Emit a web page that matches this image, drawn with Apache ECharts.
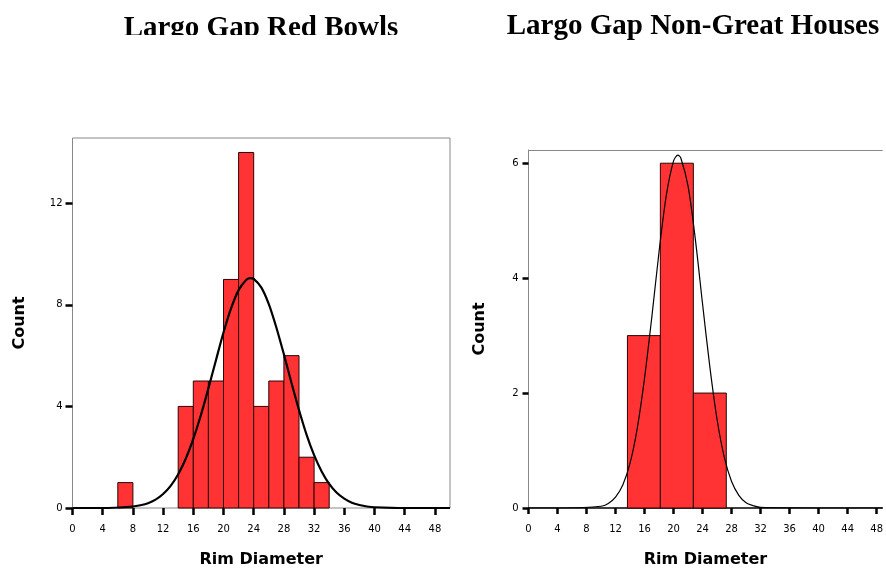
<!DOCTYPE html>
<html>
<head>
<meta charset="utf-8">
<script src="https://cdn.jsdelivr.net/npm/echarts@6/dist/echarts.min.js"></script>
<style>
  html, body { margin: 0; padding: 0; background: #fff; }
  #chart { width: 886px; height: 573px; }
</style>
</head>
<body>
<div id="chart"></div>
<script>
// ---- Data ----
const titles = ['Largo Gap Red Bowls', 'Largo Gap Non-Great Houses'];
const xAxisName = 'Rim Diameter';
const yAxisName = 'Count';
const xTickValues = [0, 4, 8, 12, 16, 20, 24, 28, 32, 36, 40, 44, 48];

// Red Bowls histogram (bin low edge, bin high edge, count)
const redBinLo  = [6, 14, 16, 18, 20, 22, 24, 26, 28, 30, 32];
const redBinHi  = [8, 16, 18, 20, 22, 24, 26, 28, 30, 32, 34];
const redCounts = [1, 4, 5, 5, 9, 14, 4, 5, 6, 2, 1];
const redYTicks = [0, 4, 8, 12];
// Red Bowls fitted normal curve
const redCurveX = [0, 4, 8, 9, 10, 11, 12, 13, 14, 15, 16, 17, 18, 19, 20, 21, 22, 23, 23.6, 24, 25, 26, 27, 28, 29, 30, 31, 32, 33, 34, 35, 36, 37, 38, 39, 40, 44, 50];
const redCurveY = [0, 0, 0.06, 0.11, 0.19, 0.33, 0.55, 0.87, 1.33, 1.94, 2.72, 3.65, 4.71, 5.82, 6.91, 7.86, 8.58, 8.98, 9.05, 9.02, 8.69, 8.03, 7.11, 6.05, 4.93, 3.86, 2.89, 2.08, 1.44, 0.95, 0.60, 0.37, 0.21, 0.12, 0.06, 0.03, 0, 0];

// Non-Great Houses histogram
const ngBinLo  = [13.64, 18.18, 22.73];
const ngBinHi  = [18.18, 22.73, 27.27];
const ngCounts = [3, 6, 2];
const ngYTicks = [0, 2, 4, 6];
// Non-Great Houses fitted normal curve
const ngCurveX = [0, 5, 10, 11, 12, 13, 14, 15, 16, 17, 18, 19, 20, 20.6, 21, 22, 23, 24, 25, 26, 27, 28, 29, 30, 31, 32, 40, 48.8];
const ngCurveY = [0, 0, 0.03, 0.08, 0.19, 0.40, 0.78, 1.39, 2.26, 3.32, 4.46, 5.44, 6.04, 6.14, 6.09, 5.60, 4.68, 3.55, 2.46, 1.54, 0.88, 0.46, 0.22, 0.09, 0.04, 0.01, 0, 0];

// ---- Build options ----
const zip3 = (a, b, c) => a.map((v, i) => [v, b[i], c[i]]);
const zip2 = (a, b) => a.map((v, i) => [v, b[i]]);

function renderHist(params, api) {
  const p0 = api.coord([api.value(0), 0]);
  const p1 = api.coord([api.value(1), api.value(2)]);
  return {
    type: 'rect',
    shape: { x: p0[0], y: p1[1], width: p1[0] - p0[0], height: p0[1] - p1[1] },
    style: { fill: '#ff3333', stroke: '#2b0505', lineWidth: 1 }
  };
}

const tickFont = { fontFamily: 'DejaVu Sans', fontSize: 10, color: '#000' };
const nameFont = { fontFamily: 'DejaVu Sans', fontSize: 16, fontWeight: 'bold', color: '#000' };

function makeX(gridIndex, max, axisLineShow, tickLen) {
  return {
    type: 'value', gridIndex, min: 0, max,
    name: xAxisName, nameLocation: 'middle', nameGap: 44, nameTextStyle: nameFont,
    splitLine: { show: false },
    axisLine: { show: axisLineShow, onZero: false, lineStyle: { color: '#000', width: 1.5 } },
    axisTick: { show: true, customValues: xTickValues, length: tickLen, lineStyle: { color: '#000', width: 2.5 } },
    axisLabel: { customValues: xTickValues, margin: 16, ...tickFont }
  };
}
function makeY(gridIndex, max, ticks, tickLen, gap, lineShow) {
  return {
    type: 'value', gridIndex, min: 0, max,
    name: yAxisName, nameLocation: 'middle', nameGap: gap, nameTextStyle: nameFont,
    splitLine: { show: false },
    axisLine: { show: lineShow, lineStyle: { color: '#888', width: 1 } },
    axisTick: { show: true, customValues: ticks, length: tickLen, lineStyle: { color: '#000', width: 2.5 } },
    axisLabel: { customValues: ticks, margin: 10, ...tickFont }
  };
}

const titleFont = { fontFamily: 'Liberation Serif', fontSize: 29, fontWeight: 'bold', color: '#000' };

const option = {
  animation: false,
  backgroundColor: '#fff',
  title: [
    { text: titles[0], left: 261, top: 14, textAlign: 'center', textStyle: titleFont, padding: 0 },
    { text: titles[1], left: 693, top: 12, textAlign: 'center', textStyle: titleFont, padding: 0 }
  ],
  graphic: [
    { type: 'rect', z: 100, shape: { x: 100, y: 35, width: 320, height: 14 }, style: { fill: '#fff' } }
  ],
  grid: [
    { left: 72.5, top: 138, width: 377.5, height: 376.3, show: true, borderColor: '#888', borderWidth: 1, containLabel: false },
    { left: 528.5, top: 150, right: 0, height: 366.7, show: false, containLabel: false }
  ],
  xAxis: [
    makeX(0, 50, false, 7),
    makeX(1, 48.79, true, 6),
    // top frame edge of the right panel
    { type: 'value', gridIndex: 1, position: 'top', min: 0, max: 48.79,
      axisLine: { show: true, onZero: false, lineStyle: { color: '#888', width: 1 } },
      axisTick: { show: false }, axisLabel: { show: false }, splitLine: { show: false } }
  ],
  yAxis: [makeY(0, 14.57, redYTicks, 7, 45, false), makeY(1, 6.23, ngYTicks, 6, 41, true)],
  series: [
    { type: 'custom', xAxisIndex: 0, yAxisIndex: 0, renderItem: renderHist,
      encode: { x: [0, 1], y: 2 }, data: zip3(redBinLo, redBinHi, redCounts), z: 2, clip: false },
    { type: 'line', xAxisIndex: 0, yAxisIndex: 0, data: zip2(redCurveX, redCurveY),
      smooth: 0.3, showSymbol: false, symbol: 'none', z: 3,
      lineStyle: { color: '#000', width: 2.2 } },
    { type: 'custom', xAxisIndex: 1, yAxisIndex: 1, renderItem: renderHist,
      encode: { x: [0, 1], y: 2 }, data: zip3(ngBinLo, ngBinHi, ngCounts), z: 2, clip: false },
    { type: 'line', xAxisIndex: 1, yAxisIndex: 1, data: zip2(ngCurveX, ngCurveY),
      smooth: 0.3, showSymbol: false, symbol: 'none', z: 3,
      lineStyle: { color: '#000', width: 1.2 } }
  ]
};

const chart = echarts.init(document.getElementById('chart'), null, { renderer: 'canvas' });
chart.setOption(option);
</script>
</body>
</html>
